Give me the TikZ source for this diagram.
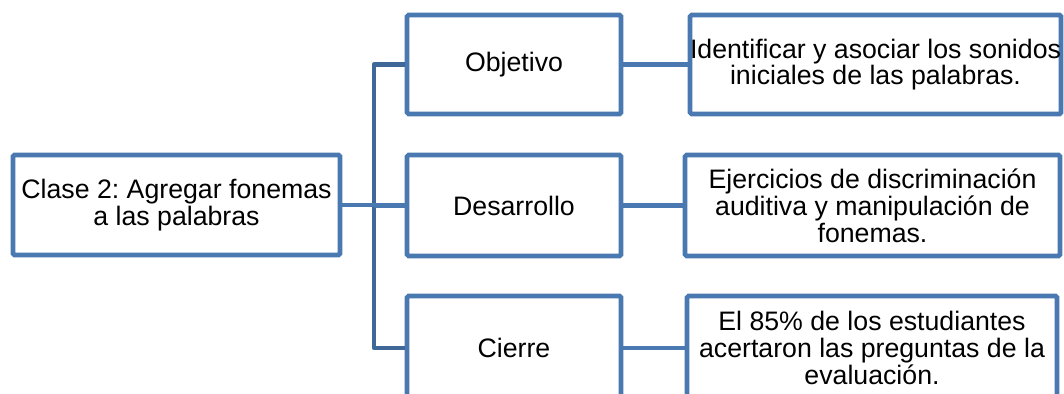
\documentclass[tikz,border=0pt]{standalone}
\usepackage{fontspec}
\setmainfont{Liberation Sans}
\frenchspacing
\definecolor{boxblue}{HTML}{4A79B1}
\definecolor{trunkblue}{HTML}{3F6899}
\begin{document}
\begin{tikzpicture}[x=1pt,y=-1pt,
  box/.style={draw=boxblue, line width=4.6pt, rounded corners=1.5pt, fill=white,
    inner sep=0pt, align=center, font=\fontsize{26.7}{26.8}\selectfont},
  link/.style={draw=boxblue, line width=4.6pt},
  trunk/.style={draw=trunkblue, line width=4.4pt, line join=round}]
\useasboundingbox (0,0) rectangle (1064,393);
% root
\node[box, minimum width=327pt, minimum height=100pt] (root) at (176.5,205) {Clase 2: Agregar fonemas\\a las palabras};
% middle column
\node[box, minimum width=214pt, minimum height=99pt] (obj) at (514,64.5) {Objetivo};
\node[box, minimum width=214pt, minimum height=101pt] (des) at (514,205.5) {Desarrollo};
\node[box, minimum width=214pt, minimum height=104pt] (cie) at (514,348) {Cierre};
% results
\node[box, minimum width=371pt, minimum height=99pt] (r1) at (875.5,64.5) {Identificar y asociar los sonidos\\iniciales de las palabras.};
\node[box, minimum width=375pt, minimum height=101pt] (r2) at (872.5,205.5) {Ejercicios de discriminación\\auditiva y manipulación de\\fonemas.};
\node[box, minimum width=370pt, minimum height=104pt] (r3) at (872,348) {El 85\% de los estudiantes\\acertaron las preguntas de la\\evaluación.};
% trunk
\coordinate (tTop) at (374,64.5);
\coordinate (tBot) at (374,348);
\draw[trunk] (obj.west) -- (tTop) -- (tBot) -- (cie.west);
\draw[link] (root.east) -- (root.east -| tTop);
\draw[link] (des.west) -- (des.west -| tTop);
\draw[link] (obj.east) -- (r1.west);
\draw[link] (des.east) -- (r2.west);
\draw[link] (cie.east) -- (r3.west);
\end{tikzpicture}
\end{document}
